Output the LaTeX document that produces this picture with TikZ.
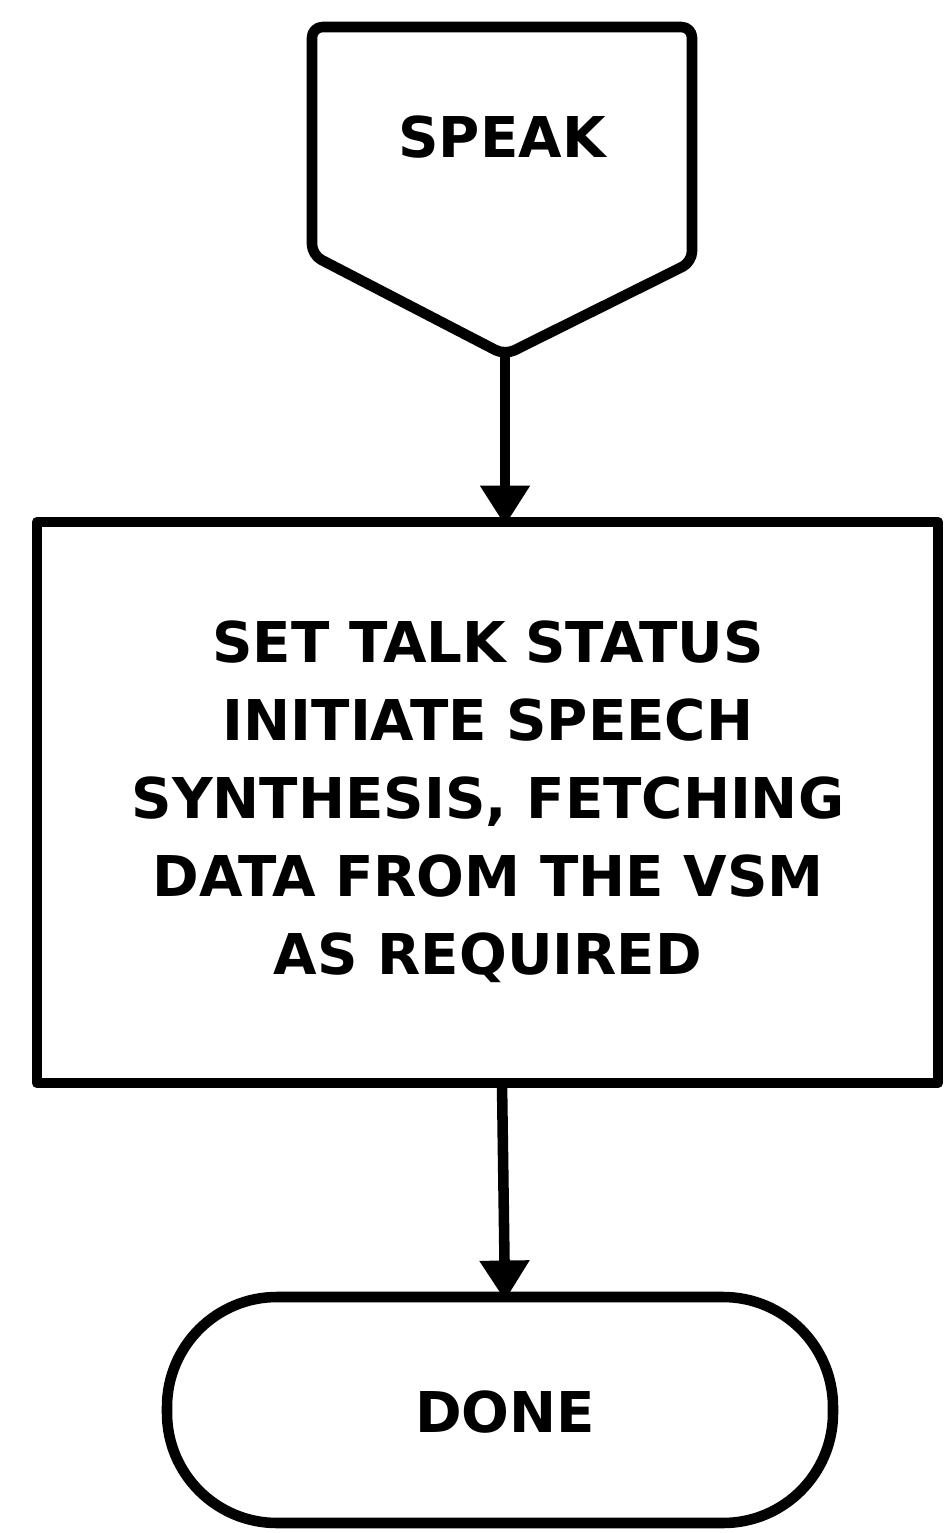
\documentclass[tikz,border=0pt]{standalone}
\usepackage{fontspec}
\setmainfont{DejaVu Sans}
\usetikzlibrary{arrows.meta}
\tikzset{
  shapeline/.style={line width=6pt, line join=round, draw=black},
  flow/.style={line width=6pt, -{Triangle[width=0.95cm,length=0.8cm]}, shorten >=-2pt},
  lbl/.style={font=\fontsize{32}{44.4}\selectfont\bfseries, align=center, inner sep=0pt},
}
\begin{document}
\begin{tikzpicture}[x=0.02cm,y=-0.02cm]
\useasboundingbox (0,0) rectangle (943,1533);
% off-page connector
\draw[shapeline, rounded corners=6pt] (312,27) -- (692,27) -- (692,262) -- (505,355) -- (312,255) -- cycle;
\node[lbl] (speak) at (502,137) {SPEAK};
\coordinate (speakbot) at (505,355);
% process box
\draw[shapeline] (37,522) rectangle (938,1083);
\coordinate (boxtop) at (505,522);
\coordinate (boxbot) at (502,1083);
\node[lbl] (proc) at (488,802) {SET TALK STATUS\\INITIATE SPEECH\\SYNTHESIS, FETCHING\\DATA FROM THE VSM\\AS REQUIRED};
% terminal
\draw[shapeline, rounded corners=2.2cm] (167,1297) rectangle (833,1523);
\coordinate (donetop) at (505,1297);
\node[lbl] (done) at (505,1412) {DONE};
% connectors
\draw[flow] (speakbot) -- (boxtop);
\draw[flow] (boxbot) -- (donetop);
\end{tikzpicture}
\end{document}
